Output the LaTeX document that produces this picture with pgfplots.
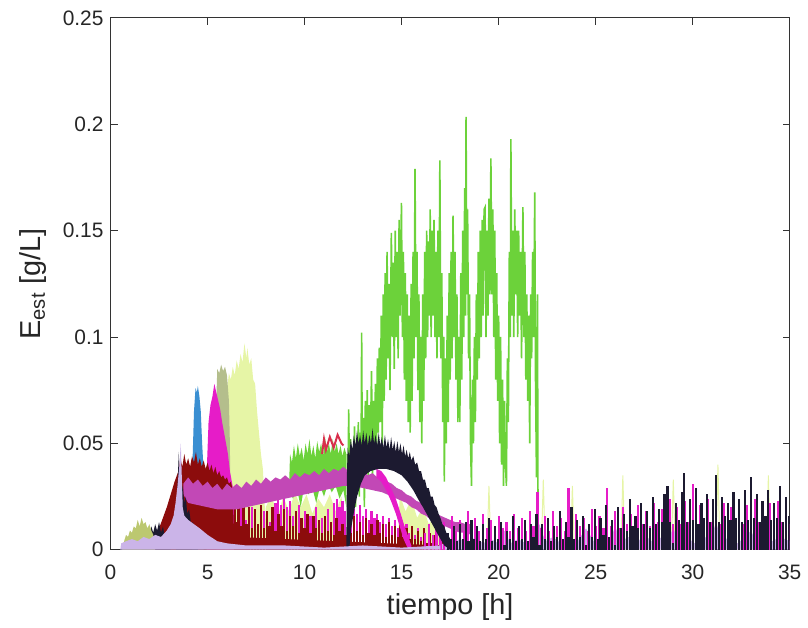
\documentclass[border=0pt]{standalone}
\usepackage{fontspec}
\setmainfont{Liberation Sans}
\usepackage{pgfplots}
\pgfplotsset{compat=1.18}
\definecolor{cgreen}{HTML}{6CD23A}
\definecolor{cblack}{HTML}{1C1A30}
\definecolor{cmag}{HTML}{E61CC8}
\definecolor{corch}{HTML}{C248B6}
\definecolor{cmaroon}{HTML}{8C0C0C}
\definecolor{cblue}{HTML}{3A8FD2}
\definecolor{cyel}{HTML}{E6F5A6}
\definecolor{cgol}{HTML}{B4BE8C}
\definecolor{clav}{HTML}{CBB4E8}
\definecolor{coli}{HTML}{BCC870}
\definecolor{ccrim}{HTML}{D8304C}
\begin{document}
\begin{tikzpicture}
\begin{axis}[
  scale only axis, width=341pt, height=267pt,
  xmin=0, xmax=35, ymin=0, ymax=0.25,
  xtick={0,5,10,15,20,25,30,35},
  xticklabels={0,5,10,15,20,25,30,35},
  ytick={0,0.05,0.1,0.15,0.2,0.25},
  yticklabels={0,0.05,0.1,0.15,0.2,0.25},
  tick align=inside, major tick length=3.5pt,
  axis line style={color=black!80, line width=0.5pt},
  tick style={color=black!80, line width=0.5pt},
  ticklabel style={font=\fontsize{10.5}{12}\selectfont, text=black!85},
  xticklabel style={yshift=-4pt},
  /pgf/number format/assume math mode=true,
  every axis x label/.style={at={(axis description cs:0.5,0)}, anchor=center, yshift=-29pt},
  every axis y label/.style={at={(axis description cs:-0.114,0.5)}, anchor=center, rotate=90},
  label style={font=\fontsize{14.5}{16}\selectfont, text=black!85},
  xlabel={tiempo [h]},
  ylabel={E\textsubscript{est} [g/L]},
]
% light yellow hump
\addplot[fill=cyel, draw=none] coordinates {(5.9,0) (5.9,0.06) (6.0,0.075) (6.1,0.083) (6.2,0.08) (6.3,0.086) (6.4,0.082) (6.5,0.089) (6.6,0.085) (6.7,0.092) (6.8,0.088) (6.9,0.097) (7.0,0.09) (7.05,0.095) (7.15,0.087) (7.25,0.09) (7.35,0.08) (7.45,0.078) (7.55,0.065) (7.65,0.055) (7.75,0.045) (7.85,0.038) (7.95,0.02) (8.0,0.0)};
% light yellow low noise
\addplot[fill=cyel, draw=none] coordinates {(7.9,0) (8.0,0.02) (8.3,0.026) (8.6,0.015) (8.9,0.025) (9.2,0.018) (9.5,0.027) (9.8,0.02) (10.1,0.026) (10.4,0.017) (10.7,0.024) (11.0,0.02) (11.3,0.026) (11.6,0.018) (11.9,0.025) (12.2,0.0)};
\addplot[fill=cyel, draw=none] coordinates {(14.8,0) (14.9,0.026) (15.2,0.018) (15.5,0.024) (15.8,0.015) (16.1,0.02) (16.4,0.012) (16.7,0.016) (17.0,0.008) (17.3,0.0)};
\addplot[cyel, line width=0.5pt] coordinates {(19.4,0) (19.5,0.03) (19.6,0) (22.2,0) (22.3,0.033) (22.4,0) (23.7,0) (23.8,0.03) (23.9,0) (26.3,0) (26.4,0.035) (26.5,0) (28.9,0) (29.0,0.033) (29.1,0) (31.2,0) (31.3,0.04) (31.4,0) (33.8,0) (33.9,0.035) (34.0,0)};
% grey-olive
\addplot[fill=cgol, draw=none] coordinates {(5.45,0) (5.45,0.07) (5.5,0.085) (5.6,0.083) (5.7,0.087) (5.8,0.084) (5.9,0.086) (6.0,0.082) (6.1,0.07) (6.15,0.05) (6.2,0)};
% blue
\addplot[fill=cblue, draw=none] coordinates {(4.2,0) (4.22,0.04) (4.3,0.065) (4.38,0.076) (4.45,0.074) (4.5,0.077) (4.58,0.072) (4.65,0.065) (4.72,0.05) (4.78,0.04) (4.8,0)};
% magenta peak
\addplot[fill=cmag, draw=none] coordinates {(4.95,0) (4.97,0.04) (5.05,0.06) (5.15,0.068) (5.25,0.072) (5.35,0.078) (5.45,0.074) (5.55,0.07) (5.65,0.066) (5.75,0.06) (5.85,0.055) (5.95,0.05) (6.05,0.045) (6.15,0.037) (6.25,0.032) (6.35,0.027) (6.4,0.0)};
% green plateau
\addplot[fill=cgreen, draw=none] coordinates {(9.2,0.03) (9.25,0.045) (9.35,0.041) (9.45,0.049) (9.55,0.043) (9.65,0.05) (9.75,0.044) (9.85,0.048) (9.95,0.042) (10.05,0.05) (10.15,0.045) (10.25,0.052) (10.35,0.044) (10.45,0.049) (10.55,0.043) (10.65,0.051) (10.75,0.046) (10.85,0.05) (10.95,0.044) (11.05,0.053) (11.15,0.046) (11.25,0.05) (11.35,0.045) (11.45,0.052) (11.55,0.046) (11.65,0.05) (11.75,0.045) (11.85,0.049) (11.95,0.044) (12.05,0.048) (12.15,0.045) (12.15,0.02) (12.0,0.028) (11.8,0.024) (11.6,0.03) (11.4,0.027) (11.2,0.031) (11.0,0.025) (10.8,0.03) (10.6,0.022) (10.4,0.029) (10.2,0.026) (10.0,0.031) (9.8,0.02) (9.6,0.029) (9.4,0.024) (9.2,0.028)};
% green spikes
\addplot[cgreen, line width=0.8pt] coordinates {(12.20,0.045) (12.24,0.02) (12.27,0.066) (12.32,0.03) (12.37,0.052) (12.42,0.015) (12.47,0.048) (12.52,0.03) (12.57,0.058) (12.62,0.02) (12.67,0.05) (12.72,0.035) (12.77,0.06) (12.82,0.025) (12.87,0.055) (12.91,0.04) (12.94,0.102) (12.98,0.03) (13.03,0.062)
(13.08,0.02) (13.13,0.07) (13.18,0.04) (13.23,0.075) (13.28,0.03) (13.33,0.068) (13.38,0.045) (13.45,0.084) (13.5,0.03) (13.55,0.07) (13.6,0.05) (13.65,0.078) (13.7,0.04) (13.75,0.09) (13.8,0.055) (13.85,0.095) (13.9,0.06) (13.95,0.11) (14.0,0.05)
(14.05,0.12) (14.1,0.07) (14.15,0.13) (14.2,0.08) (14.25,0.14) (14.3,0.09) (14.35,0.125) (14.4,0.075) (14.47,0.149) (14.52,0.1) (14.57,0.135) (14.62,0.085) (14.67,0.15) (14.72,0.1) (14.77,0.14) (14.82,0.09) (14.87,0.155) (14.92,0.11) (14.99,0.163)
(15.04,0.1) (15.09,0.14) (15.14,0.08) (15.19,0.13) (15.24,0.07) (15.29,0.12) (15.34,0.06) (15.39,0.11) (15.44,0.055) (15.49,0.125) (15.54,0.07) (15.59,0.14) (15.64,0.09) (15.69,0.179) (15.74,0.1) (15.79,0.14) (15.84,0.075) (15.89,0.12) (15.94,0.06) (15.99,0.1)
(16.04,0.05) (16.09,0.12) (16.14,0.07) (16.19,0.14) (16.24,0.09) (16.29,0.15) (16.34,0.1) (16.39,0.145) (16.44,0.11) (16.47,0.16) (16.52,0.1) (16.57,0.15) (16.62,0.11) (16.67,0.155) (16.72,0.1) (16.77,0.14) (16.82,0.09) (16.87,0.15) (16.92,0.1) (16.97,0.183)
(17.02,0.09) (17.07,0.13) (17.12,0.06) (17.17,0.1) (17.2,0.032) (17.25,0.09) (17.3,0.05) (17.35,0.11) (17.4,0.06) (17.45,0.13) (17.5,0.08) (17.55,0.14) (17.6,0.09) (17.65,0.157) (17.7,0.1) (17.75,0.14) (17.8,0.08) (17.85,0.12) (17.9,0.06) (17.95,0.1)
(18.0,0.06) (18.05,0.13) (18.1,0.08) (18.15,0.15) (18.2,0.1) (18.25,0.17) (18.29,0.11) (18.32,0.2035) (18.36,0.12) (18.4,0.16) (18.45,0.09) (18.5,0.12) (18.55,0.05) (18.6,0.03) (18.65,0.08) (18.7,0.05) (18.75,0.1) (18.8,0.06) (18.85,0.12) (18.9,0.08) (18.95,0.14)
(19.0,0.09) (19.05,0.15) (19.1,0.1) (19.15,0.155) (19.2,0.11) (19.25,0.16) (19.3,0.161) (19.35,0.1) (19.4,0.15) (19.45,0.11) (19.5,0.165) (19.55,0.12) (19.6,0.184) (19.65,0.12) (19.7,0.16) (19.75,0.1) (19.8,0.15) (19.85,0.08) (19.9,0.13) (19.95,0.07)
(20.0,0.11) (20.05,0.05) (20.1,0.1) (20.15,0.04) (20.2,0.08) (20.25,0.03) (20.3,0.07) (20.35,0.04) (20.4,0.03) (20.45,0.09) (20.5,0.06) (20.55,0.14) (20.6,0.1) (20.63,0.193) (20.68,0.11) (20.73,0.15) (20.78,0.1) (20.83,0.16) (20.88,0.12) (20.93,0.15) (20.98,0.1)
(21.03,0.15) (21.08,0.11) (21.13,0.14) (21.18,0.09) (21.25,0.161) (21.3,0.1) (21.35,0.14) (21.4,0.08) (21.45,0.12) (21.5,0.07) (21.55,0.11) (21.6,0.05) (21.65,0.12) (21.7,0.09) (21.75,0.14) (21.8,0.1) (21.86,0.168) (21.9,0.08) (21.95,0.034) (22.0,0.12) (22.03,0.01)};
% crimson bits
\addplot[ccrim, line width=1pt] coordinates {(10.9,0.045) (11.0,0.052) (11.1,0.047) (11.3,0.053) (11.5,0.048) (11.7,0.054) (11.9,0.05) (12.0,0.049)};
% magenta noise (first part, under maroon)
\addplot[ycomb, cmag, line width=1.1pt] coordinates {(6.45,0.012) (6.7,0.022) (7.0,0.014) (7.3,0.02) (7.6,0.012) (7.9,0.018) (8.2,0.013) (8.5,0.022) (8.65,0.024) (8.8,0.021) (8.95,0.025) (9.1,0.02) (9.25,0.023) (9.4,0.016) (9.7,0.021) (10.0,0.018) (10.3,0.016) (10.6,0.02) (10.9,0.015) (11.2,0.019) (11.5,0.022) (11.65,0.024) (11.8,0.02) (11.95,0.023) (12.1,0.018) (12.25,0.02) (12.4,0.016) (12.55,0.019) (12.7,0.017) (12.85,0.021) (13.0,0.016) (13.15,0.019) (13.3,0.014) (13.45,0.018) (13.6,0.015) (13.75,0.017) (13.9,0.013) (14.05,0.016) (14.2,0.012) (14.35,0.015) (14.5,0.011) (14.65,0.014) (14.8,0.01) (14.95,0.013) (15.1,0.009) (15.25,0.012) (15.4,0.008) (15.55,0.011) (15.7,0.007) (15.85,0.01) (16.0,0.006)};
% maroon band
\addplot[fill=cmaroon, draw=none] coordinates {(2.0,0) (2.0,0.004) (2.3,0.008) (2.5,0.01) (2.7,0.015) (2.9,0.02) (3.1,0.026) (3.3,0.032) (3.5,0.037) (3.6,0.043) (3.7,0.039) (3.8,0.045) (3.9,0.04) (4.0,0.043) (4.1,0.039) (4.2,0.044) (4.3,0.041) (4.4,0.046) (4.5,0.04) (4.6,0.043) (4.7,0.039) (4.8,0.042) (4.9,0.038) (5.0,0.041) (5.1,0.037) (5.2,0.04) (5.3,0.036) (5.4,0.039) (5.5,0.035) (5.6,0.037) (5.7,0.034) (5.8,0.035) (5.9,0.033) (6.0,0.034) (6.1,0.031) (6.2,0.032) (6.3,0.028) (6.35,0.012) (6.4,0.006) (17.0,0.002) (17.2,0)};
% maroon noise
\addplot[ycomb, cmaroon, line width=1.2pt] coordinates {(6.4,0.02) (6.5,0.013) (6.6,0.021) (6.7,0.011) (6.85,0.022) (7.0,0.012) (7.15,0.02) (7.3,0.01) (7.45,0.019) (7.6,0.012) (7.75,0.021) (7.9,0.01) (8.05,0.018) (8.2,0.011) (8.35,0.02) (8.5,0.009) (8.65,0.017) (8.8,0.011) (8.95,0.019) (9.1,0.009) (9.25,0.016) (9.4,0.011) (9.55,0.018) (9.7,0.008) (9.85,0.015) (10.0,0.01) (10.15,0.017) (10.3,0.008) (10.45,0.016) (10.6,0.01) (10.75,0.014) (10.9,0.008) (11.05,0.016) (11.2,0.009) (11.35,0.013) (11.5,0.007) (11.65,0.015) (11.8,0.009) (11.95,0.012) (12.1,0.007) (12.25,0.014) (12.4,0.008) (12.55,0.016) (12.7,0.009) (12.85,0.013) (13.0,0.007) (13.15,0.015) (13.3,0.008) (13.45,0.012) (13.6,0.007) (13.75,0.014) (13.9,0.008) (14.05,0.012) (14.2,0.006) (14.35,0.013) (14.5,0.007) (14.65,0.011) (14.8,0.006) (14.95,0.012) (15.1,0.006) (15.25,0.01) (15.4,0.005) (15.55,0.011) (15.7,0.005) (15.85,0.009) (16.0,0.004) (16.15,0.01) (16.3,0.003) (16.45,0.008) (16.6,0.003) (16.75,0.007) (16.9,0.002) (17.05,0.005)};
% orchid band
\addplot[fill=corch, draw=none] coordinates {(3.75,0.031) (4.0,0.034) (4.25,0.031) (4.5,0.033) (4.75,0.03) (5.0,0.032) (5.25,0.029) (5.5,0.031) (5.75,0.028) (6.0,0.031) (6.25,0.029) (6.5,0.031) (6.75,0.029) (7.0,0.032) (7.25,0.03) (7.5,0.033) (7.75,0.031) (8.0,0.034) (8.25,0.032) (8.5,0.034) (8.75,0.033) (9.0,0.035) (9.25,0.033) (9.5,0.036) (9.75,0.034) (10.0,0.036) (10.25,0.035) (10.5,0.037) (10.75,0.035) (11.0,0.038) (11.25,0.036) (11.5,0.038) (11.75,0.037) (12.0,0.039) (12.25,0.037) (12.5,0.038) (12.75,0.036) (13.0,0.037) (13.25,0.035) (13.5,0.036) (13.75,0.034) (14.0,0.034) (14.25,0.032) (14.5,0.031) (14.75,0.029) (15.0,0.028) (15.25,0.026) (15.5,0.025) (15.75,0.023) (16.0,0.022) (16.25,0.02) (16.5,0.019) (16.75,0.017) (17.0,0.016) (17.25,0.015) (17.5,0.014) (17.75,0.013) (18.0,0.013) (18.3,0.012) (18.6,0.012)
(18.6,0.007) (18.3,0.008) (18.0,0.008) (17.75,0.009) (17.5,0.01) (17.25,0.011) (17.0,0.012) (16.75,0.013) (16.5,0.014) (16.25,0.016) (16.0,0.017) (15.75,0.019) (15.5,0.02) (15.25,0.022) (15.0,0.023) (14.75,0.024) (14.5,0.025) (14.25,0.026) (14.0,0.027) (13.5,0.028) (13.0,0.029) (12.5,0.03) (12.0,0.03) (11.5,0.029) (11.0,0.028) (10.5,0.027) (10.0,0.026) (9.5,0.025) (9.0,0.024) (8.5,0.023) (8.0,0.022) (7.5,0.021) (7.0,0.02) (6.5,0.019) (6.0,0.019) (5.5,0.019) (5.0,0.02) (4.5,0.021) (4.0,0.022) (3.75,0.026)};
% magenta arc
\addplot[fill=cmag, draw=none] coordinates {(13.7,0.038) (13.95,0.037) (14.2,0.034) (14.45,0.029) (14.7,0.024) (14.95,0.017) (15.15,0.011) (15.35,0.006) (15.5,0.002) (15.5,0) (15.3,0.001) (15.1,0.005) (14.9,0.011) (14.7,0.017) (14.45,0.023) (14.2,0.028) (13.95,0.032) (13.7,0.034)};
% lavender, later part
\addplot[fill=clav, draw=none] coordinates {(17,0) (17,0.002) (17.3,0.004) (17.6,0.003) (18.0,0.005) (18.4,0.003) (18.8,0.006) (19.2,0.003) (19.6,0.005) (20.0,0.003) (20.3,0.009) (20.6,0.003) (21.0,0.005) (21.4,0.003) (21.8,0.006) (22.1,0.012) (22.4,0.004) (22.8,0.006) (23.2,0.003) (23.6,0.005) (24.0,0.003) (24.5,0.01) (24.9,0.004) (25.3,0.006) (25.7,0.003) (26.0,0.011) (26.3,0.004) (26.7,0.006) (27.1,0.003) (27.5,0.007) (27.9,0.004) (28.3,0.006) (28.6,0.003) (29.0,0.01) (29.3,0.004) (29.7,0.006) (30.1,0.003) (30.5,0.007) (30.9,0.004) (31.2,0.013) (31.5,0.004) (31.9,0.006) (32.3,0.003) (32.7,0.006) (33.0,0.009) (33.3,0.003) (33.7,0.006) (34.1,0.004) (34.5,0.006) (35.0,0.004) (35.0,0)};
% magenta noise (second part)
\addplot[ycomb, cmag, line width=1.1pt] coordinates {(16.2,0.008) (16.4,0.012) (16.6,0.007) (16.8,0.015) (17.0,0.009) (17.2,0.013) (17.4,0.008) (17.6,0.016) (17.8,0.009) (18.0,0.014) (18.2,0.009) (18.4,0.018) (18.6,0.01) (18.8,0.015) (19.0,0.009) (19.2,0.017) (19.4,0.01) (19.6,0.014) (19.8,0.009) (20.0,0.016) (20.2,0.01) (20.4,0.013) (20.6,0.009) (20.8,0.017) (21.0,0.01) (21.2,0.015) (21.4,0.009) (21.6,0.018) (21.8,0.011) (22.0,0.027) (22.2,0.01) (22.4,0.016) (22.6,0.009) (22.8,0.018) (23.0,0.011) (23.2,0.015) (23.4,0.009) (23.6,0.029) (23.8,0.01) (24.0,0.017) (24.2,0.011) (24.4,0.015) (24.6,0.009) (24.8,0.019) (25.0,0.011) (25.2,0.016) (25.4,0.01) (25.6,0.029) (25.8,0.011) (26.0,0.018) (26.2,0.01) (26.4,0.02) (26.6,0.012) (26.8,0.017) (27.0,0.011) (27.2,0.021) (27.4,0.012) (27.6,0.018) (27.8,0.011) (28.0,0.022) (28.2,0.013) (28.4,0.019) (28.6,0.012) (28.8,0.024) (29.0,0.012) (29.2,0.02) (29.4,0.012) (29.6,0.023) (29.8,0.013) (30.0,0.031) (30.2,0.012) (30.4,0.021) (30.6,0.012) (30.8,0.024) (31.0,0.013) (31.2,0.035) (31.4,0.012) (31.6,0.022) (31.8,0.012) (32.0,0.02) (32.2,0.013) (32.4,0.023) (32.6,0.012) (32.8,0.021) (33.0,0.012) (33.2,0.024) (33.4,0.013) (33.6,0.02) (33.8,0.012) (34.0,0.022) (34.2,0.012) (34.4,0.023) (34.6,0.013) (34.8,0.02) (35.0,0.012)};
% black early patch and spike
\addplot[fill=cblack, draw=none] coordinates {(1.6,0) (1.7,0.006) (1.8,0.004) (1.9,0.009) (2.0,0.006) (2.1,0.011) (2.2,0.008) (2.3,0.012) (2.4,0.009) (2.5,0.013) (2.6,0.008) (2.7,0.011) (2.8,0.006) (2.9,0.008) (3.0,0.004) (3.1,0)};
\addplot[fill=cblack, draw=none] coordinates {(3.38,0) (3.45,0.03) (3.52,0.046) (3.56,0.03) (3.6,0.038) (3.65,0.026) (3.72,0.03) (3.8,0.022) (3.88,0.025) (3.95,0.017) (4.05,0.019) (4.15,0.012) (4.25,0.013) (4.35,0.007) (4.45,0.006) (4.5,0.0)};
% black hump
\addplot[fill=cblack, draw=none] coordinates {(12.15,0.0) (12.18,0.035) (12.22,0.048) (12.3,0.044) (12.38,0.052) (12.46,0.047) (12.54,0.054) (12.62,0.049) (12.7,0.056) (12.78,0.05) (12.86,0.054) (12.94,0.049) (13.02,0.056) (13.1,0.05) (13.18,0.055) (13.26,0.049) (13.34,0.054) (13.42,0.05) (13.5,0.057) (13.58,0.05) (13.66,0.054) (13.74,0.049) (13.82,0.055) (13.9,0.049) (13.98,0.053) (14.06,0.048) (14.14,0.054) (14.22,0.048) (14.3,0.052) (14.38,0.047) (14.46,0.053) (14.54,0.047) (14.62,0.051) (14.7,0.046) (14.78,0.051) (14.86,0.046) (14.94,0.05) (15.02,0.045) (15.1,0.049) (15.18,0.044) (15.26,0.047) (15.34,0.043) (15.42,0.046) (15.5,0.042) (15.6,0.044) (15.7,0.04) (15.8,0.041) (15.9,0.037) (16.0,0.037) (16.1,0.033) (16.2,0.033) (16.3,0.029) (16.4,0.029) (16.5,0.025) (16.6,0.025) (16.7,0.021) (16.8,0.02) (16.9,0.017) (17.0,0.015) (17.1,0.012) (17.2,0.011) (17.3,0.008) (17.4,0.007) (17.5,0.005)
(17.5,0.0) (17.2,0.002) (17.0,0.005) (16.7,0.01) (16.4,0.015) (16.1,0.02) (15.9,0.023) (15.6,0.028) (15.3,0.032) (15.0,0.035) (14.6,0.037) (14.2,0.038) (13.8,0.038) (13.4,0.037) (13.1,0.035) (12.9,0.031) (12.7,0.025) (12.55,0.018) (12.4,0.01) (12.3,0.0)};
% black noise
\addplot[ycomb, cblack, line width=1.1pt] coordinates {(17.4,0.008) (17.55,0.005) (17.7,0.011) (17.85,0.004) (18.0,0.012) (18.15,0.005) (18.3,0.013) (18.45,0.004) (18.6,0.014) (18.75,0.005) (18.9,0.011) (19.05,0.004) (19.2,0.012) (19.35,0.005) (19.5,0.015) (19.65,0.004) (19.8,0.011) (19.95,0.005) (20.1,0.013) (20.3,0.002) (20.45,0.009) (20.6,0.005) (20.75,0.016) (20.9,0.004) (21.05,0.011) (21.2,0.005) (21.35,0.014) (21.5,0.004) (21.65,0.012) (21.8,0.006) (21.95,0.017) (22.1,0.002) (22.25,0.012) (22.4,0.005) (22.55,0.015) (22.7,0.004) (22.85,0.011) (23.0,0.006) (23.15,0.018) (23.3,0.005) (23.45,0.013) (23.6,0.006) (23.75,0.02) (23.9,0.005) (24.05,0.014) (24.2,0.006) (24.35,0.016) (24.5,0.002) (24.65,0.012) (24.8,0.006) (24.95,0.019) (25.1,0.005) (25.25,0.015) (25.4,0.007) (25.55,0.021) (25.7,0.006) (25.85,0.014) (26.0,0.002) (26.15,0.02) (26.3,0.01) (26.45,0.017) (26.6,0.009) (26.75,0.024) (26.9,0.011) (27.05,0.016) (27.2,0.01) (27.35,0.022) (27.5,0.012) (27.65,0.018) (27.8,0.01) (27.95,0.025) (28.1,0.012) (28.25,0.019) (28.4,0.013) (28.55,0.026) (28.7,0.030) (28.85,0.013) (29.0,0.003) (29.15,0.022) (29.3,0.014) (29.45,0.027) (29.55,0.036) (29.7,0.013) (29.85,0.024) (30.0,0.014) (30.15,0.029) (30.3,0.012) (30.45,0.022) (30.6,0.015) (30.75,0.026) (30.9,0.013) (31.05,0.024) (31.2,0.035) (31.35,0.013) (31.5,0.025) (31.65,0.016) (31.8,0.022) (31.95,0.014) (32.1,0.027) (32.25,0.015) (32.4,0.024) (32.55,0.013) (32.7,0.028) (32.85,0.014) (33.0,0.034) (33.15,0.015) (33.3,0.026) (33.45,0.013) (33.6,0.023) (33.75,0.016) (33.9,0.028) (34.05,0.014) (34.2,0.022) (34.35,0.015) (34.5,0.03) (34.65,0.013) (34.8,0.025) (34.95,0.016)};
% early olive
\addplot[fill=coli, draw=none] coordinates {(0.6,0) (0.7,0.004) (0.8,0.007) (0.9,0.006) (1.0,0.009) (1.1,0.008) (1.2,0.011) (1.3,0.01) (1.4,0.014) (1.5,0.011) (1.6,0.015) (1.7,0.012) (1.8,0.013) (1.9,0.01) (2.0,0.012) (2.1,0.009) (2.2,0.007) (2.3,0)};
% lavender, early part
\addplot[fill=clav, draw=none] coordinates {(0.5,0) (0.55,0.003) (0.8,0.004) (1.1,0.005) (1.4,0.004) (1.7,0.006) (2.0,0.005) (2.3,0.007) (2.6,0.006) (2.9,0.009) (3.1,0.012) (3.25,0.016) (3.35,0.022) (3.45,0.03) (3.55,0.04) (3.62,0.05) (3.67,0.035) (3.72,0.02) (3.8,0.016) (4.0,0.014) (4.3,0.012) (4.6,0.01) (5.0,0.007) (5.5,0.004) (6.0,0.003) (7,0.002) (9,0.002) (11,0.001) (13,0.002) (15,0.001) (17,0.002) (17,0)};
\end{axis}
\path ([xshift=-55.5pt,yshift=-38pt]current axis.south west) rectangle ([xshift=7.5pt,yshift=9pt]current axis.north east);
\end{tikzpicture}
\end{document}
